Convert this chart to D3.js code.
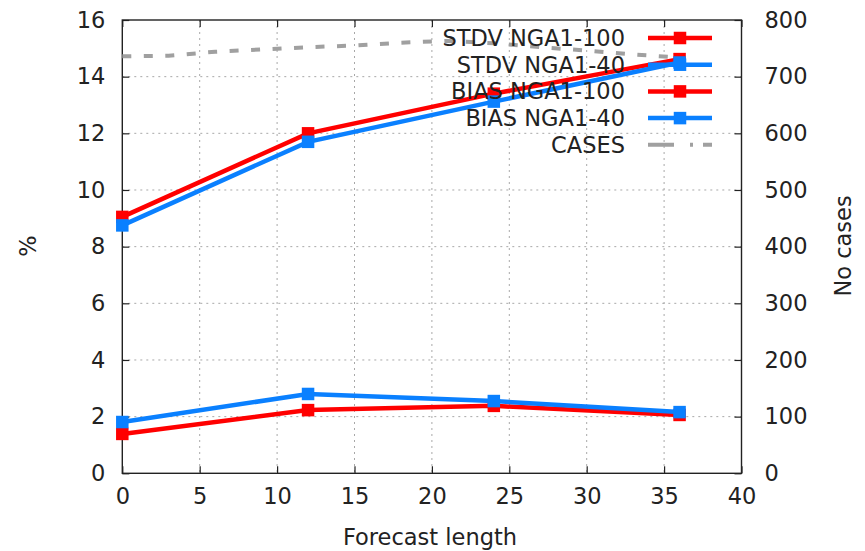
<!DOCTYPE html>
<html lang="en">
<head>
  <meta charset="UTF-8">
  <title>Forecast length</title>
  <script src="https://d3js.org/d3.v7.min.js"></script>
  <style>
    body { margin: 0; background: #fff; }
    svg { display: block; font-family: "DejaVu Sans", sans-serif; }
  </style>
</head>
<body>
  <svg width="865" height="551"></svg>

  <script>
    const leadTimes = [0, 12, 24, 36];
    const stdv100 = [9.05, 12.0, 13.4, 14.62];
    const stdv40 = [8.75, 11.7, 13.12, 14.5];
    const bias100 = [1.39, 2.23, 2.38, 2.06];
    const bias40 = [1.81, 2.8, 2.55, 2.16];

    const caseHours = [0, 3, 6, 9, 12, 15, 18, 21, 24, 27, 30, 33, 36];
    const caseCounts = [736, 737, 744, 748, 752, 755, 760, 763, 759, 752, 746, 739, 734];

    const xTicks = [0, 5, 10, 15, 20, 25, 30, 35, 40];
    const yTicks = [0, 2, 4, 6, 8, 10, 12, 14, 16];
    const y2Ticks = [0, 100, 200, 300, 400, 500, 600, 700, 800];

    const series = [
      { name: "STDV NGA1-100", values: stdv100, color: "#ff0000" },
      { name: "STDV NGA1-40", values: stdv40, color: "#0a80ff" },
      { name: "BIAS NGA1-100", values: bias100, color: "#ff0000" },
      { name: "BIAS NGA1-40", values: bias40, color: "#0a80ff" }
    ];

    const svg = d3.select("svg");
    const pLeft = 122.3, pRight = 741.5, pTop = 20, pBottom = 473.3;

    const x = d3.scaleLinear().domain([0, 40]).range([pLeft, pRight]);
    const y = d3.scaleLinear().domain([0, 16]).range([pBottom, pTop]);
    const y2 = d3.scaleLinear().domain([0, 800]).range([pBottom, pTop]);

    // grid
    const grid = svg.append("g")
      .attr("stroke", "#a8a8a8")
      .attr("stroke-width", 1)
      .attr("stroke-dasharray", "2,4");
    grid.selectAll(".gx").data(xTicks.slice(1, -1)).join("line")
      .attr("x1", d => x(d)).attr("x2", d => x(d))
      .attr("y1", pTop).attr("y2", pBottom);
    grid.selectAll(".gy").data(yTicks.slice(1, -1)).join("line")
      .attr("x1", pLeft).attr("x2", pRight)
      .attr("y1", d => y(d)).attr("y2", d => y(d));

    // axes (ticks inward, mirrored)
    const fontSize = 22.5;
    const axisColor = "#222";
    const ax = svg.append("g");

    const gBottom = ax.append("g").attr("transform", `translate(0,${pBottom})`)
      .call(d3.axisBottom(x).tickValues(xTicks).tickSizeInner(-7).tickSizeOuter(0).tickPadding(15));
    const gTop = ax.append("g").attr("transform", `translate(0,${pTop})`)
      .call(d3.axisTop(x).tickValues(xTicks).tickSizeInner(-7).tickSizeOuter(0).tickFormat(""));
    const gLeft = ax.append("g").attr("transform", `translate(${pLeft},0)`)
      .call(d3.axisLeft(y).tickValues(yTicks).tickSizeInner(-7).tickSizeOuter(0).tickPadding(17));
    const gRight = ax.append("g").attr("transform", `translate(${pRight},0)`)
      .call(d3.axisRight(y2).tickValues(y2Ticks).tickSizeInner(-7).tickSizeOuter(0).tickPadding(23));

    [gBottom, gTop, gLeft, gRight].forEach(g => {
      g.selectAll("path").remove();
      g.selectAll("line").attr("stroke", axisColor).attr("stroke-width", 1.2);
      g.selectAll("text").attr("font-size", fontSize).attr("fill", "#222")
        .attr("font-family", "DejaVu Sans, sans-serif");
    });

    // plot border
    svg.append("rect")
      .attr("x", pLeft).attr("y", pTop)
      .attr("width", pRight - pLeft).attr("height", pBottom - pTop)
      .attr("fill", "none").attr("stroke", axisColor).attr("stroke-width", 1.4);

    // axis labels
    svg.append("text").attr("x", 430).attr("y", 545)
      .attr("text-anchor", "middle").attr("font-size", fontSize).attr("fill", "#222")
      .text("Forecast length");
    svg.append("text").attr("transform", "translate(36,246) rotate(-90)")
      .attr("text-anchor", "middle").attr("font-size", fontSize).attr("fill", "#222")
      .text("%");
    svg.append("text").attr("transform", "translate(851,246) rotate(-90)")
      .attr("text-anchor", "middle").attr("font-size", fontSize).attr("fill", "#222")
      .text("No cases");

    // data
    const plot = svg.append("g");
    const line = d3.line().x(d => x(d[0])).y(d => y(d[1]));
    const ms = 12.5;

    series.forEach(s => {
      const pts = leadTimes.map((t, i) => [t, s.values[i]]);
      plot.append("path").datum(pts)
        .attr("d", line)
        .attr("fill", "none")
        .attr("stroke", s.color)
        .attr("stroke-width", 4.5);
      plot.selectAll(null).data(pts).join("rect")
        .attr("x", d => x(d[0]) - ms / 2)
        .attr("y", d => y(d[1]) - ms / 2)
        .attr("width", ms).attr("height", ms)
        .attr("fill", s.color);
    });

    const casePts = caseHours.map((t, i) => [t, caseCounts[i]]);
    plot.append("path").datum(casePts)
      .attr("d", d3.line().x(d => x(d[0])).y(d => y2(d[1])))
      .attr("fill", "none")
      .attr("stroke", "#a0a0a0")
      .attr("stroke-width", 4)
      .attr("stroke-dasharray", "9,12.5");

    // legend
    const legend = svg.append("g").attr("font-size", fontSize).attr("fill", "#222");
    const rowY = i => 38 + i * 26.7;
    series.forEach((s, i) => {
      legend.append("text").attr("x", 625).attr("y", rowY(i)).attr("dy", "0.35em")
        .attr("text-anchor", "end").text(s.name);
      legend.append("line")
        .attr("x1", 648).attr("x2", 712)
        .attr("y1", rowY(i)).attr("y2", rowY(i))
        .attr("stroke", s.color).attr("stroke-width", 4.5);
      legend.append("rect")
        .attr("x", 680 - ms / 2).attr("y", rowY(i) - ms / 2)
        .attr("width", ms).attr("height", ms)
        .attr("fill", s.color);
    });
    legend.append("text").attr("x", 625).attr("y", rowY(4)).attr("dy", "0.35em")
      .attr("text-anchor", "end").text("CASES");
    legend.append("line")
      .attr("x1", 648).attr("x2", 712)
      .attr("y1", rowY(4)).attr("y2", rowY(4))
      .attr("stroke", "#a0a0a0").attr("stroke-width", 4)
      .attr("stroke-dasharray", "26,16,3,10");
  </script>
</body>
</html>
